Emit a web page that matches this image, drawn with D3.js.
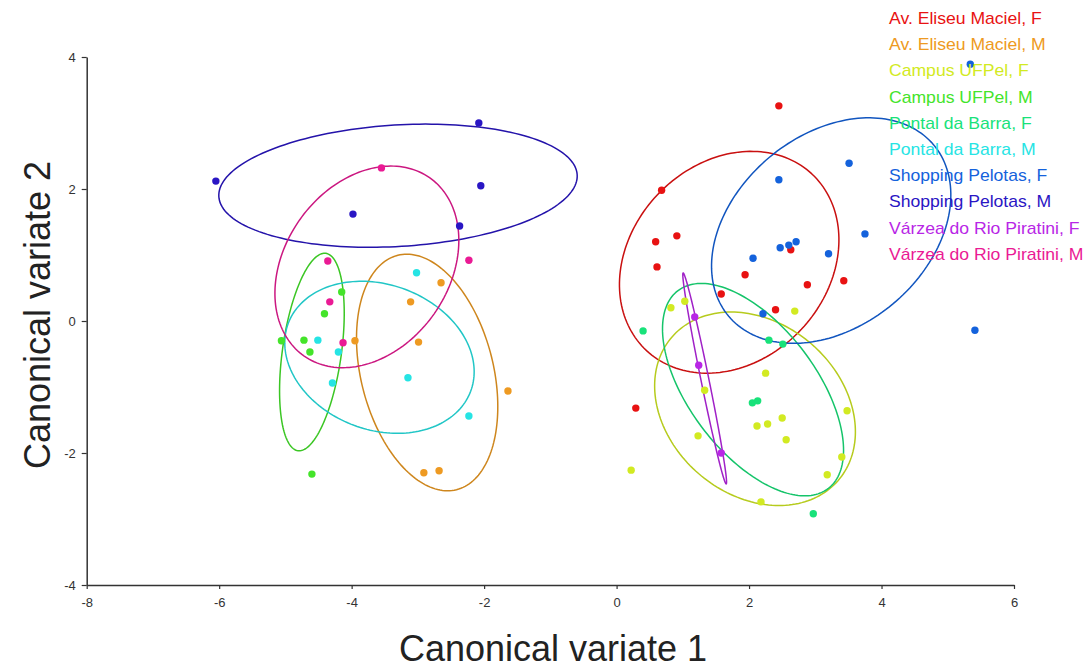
<!DOCTYPE html>
<html>
<head>
<meta charset="utf-8">
<script src="https://cdn.jsdelivr.net/npm/d3@7"></script>
<style>
  body { margin: 0; background: #fff; }
  svg { display: block; font-family: "Liberation Sans", Arial, sans-serif; }
</style>
</head>
<body>
<div id="chart"></div>
<script>
const groups = [
  "Av. Eliseu Maciel, F", "Av. Eliseu Maciel, M",
  "Campus UFPel, F", "Campus UFPel, M",
  "Pontal da Barra, F", "Pontal da Barra, M",
  "Shopping Pelotas, F", "Shopping Pelotas, M",
  "Várzea do Rio Piratini, F", "Várzea do Rio Piratini, M"
];

const groupColors = ["#e81212", "#ee9a22", "#d2ea22", "#44e42a", "#18e27a",
                     "#26e4e4", "#1462dc", "#2a16c4", "#b826e6", "#ea1a94"];

// canonical scores per group, [cv1, cv2]
const scores = [
  [[2.45, 3.26], [0.68, 1.98], [0.91, 1.29], [0.59, 1.20], [0.61, 0.82], [1.94, 0.70],
   [2.63, 1.08], [2.88, 0.55], [3.43, 0.61], [1.58, 0.41], [2.40, 0.17], [0.29, -1.32]],
  [[-2.65, 0.58], [-3.11, 0.29], [-3.95, -0.30], [-2.99, -0.32], [-1.64, -1.06],
   [-2.91, -2.30], [-2.68, -2.27]],
  [[0.82, 0.20], [1.03, 0.30], [2.69, 0.15], [2.25, -0.79], [1.33, -1.05], [3.48, -1.36],
   [2.50, -1.47], [2.28, -1.56], [2.12, -1.59], [1.23, -1.74], [2.56, -1.80], [3.40, -2.06],
   [3.18, -2.33], [0.22, -2.26], [2.18, -2.74]],
  [[-4.15, 0.44], [-4.41, 0.11], [-5.06, -0.30], [-4.72, -0.29], [-4.63, -0.47], [-4.60, -2.32]],
  [[0.40, -0.15], [2.30, -0.29], [2.51, -0.35], [2.05, -1.24], [2.13, -1.21], [2.97, -2.92]],
  [[-3.02, 0.73], [-4.51, -0.29], [-4.20, -0.47], [-4.29, -0.94], [-3.15, -0.86], [-2.23, -1.44]],
  [[2.45, 2.14], [3.51, 2.39], [3.75, 1.32], [2.06, 0.95], [2.47, 1.11], [2.60, 1.15],
   [2.71, 1.20], [3.20, 1.02], [2.21, 0.11], [5.34, 3.89], [5.41, -0.14]],
  [[-6.05, 2.12], [-2.08, 3.00], [-2.05, 2.05], [-3.98, 1.62], [-2.37, 1.44]],
  [[1.18, 0.06], [1.24, -0.67], [1.58, -2.00]],
  [[-3.55, 2.32], [-4.36, 0.91], [-2.23, 0.92], [-4.33, 0.29], [-4.13, -0.33]]
];

// ellipse parameters per group (data units, angle in degrees)
const ellCx = [1.70, -2.86, 2.09, -4.60, 2.06, -3.58, 3.24, -3.30, 1.33, -3.77];
const ellCy = [0.89, -0.78, -1.33, -0.47, -1.04, -0.55, 1.37, 2.05, -0.87, 0.82];
const ellA = [1.83, 1.83, 1.66, 1.51, 1.88, 1.47, 2.02, 2.71, 1.63, 1.65];
const ellB = [1.49, 1.00, 1.30, 0.445, 0.96, 1.10, 1.45, 0.92, 0.06, 1.24];
const ellAngle = [47, -76, -41, 82, -53, -20.5, 40, 3.5, 101.5, 55];

const xTicks = [-8, -6, -4, -2, 0, 2, 4, 6];
const yTicks = [-4, -2, 0, 2, 4];

const width = 1088, height = 669;
const svg = d3.select("#chart").append("svg").attr("width", width).attr("height", height);

const x = d3.scaleLinear().domain([-8, 6]).range([86.7, 1014]);
const y = d3.scaleLinear().domain([-4, 4]).range([585, 57]);

// axes
const xAxis = svg.append("g").attr("transform", `translate(0,${y(-4)})`)
  .call(d3.axisBottom(x).tickValues(xTicks).tickFormat(d => String(d))
    .tickSize(4).tickSizeOuter(0).tickPadding(9));
const yAxis = svg.append("g").attr("transform", `translate(${x(-8)},0)`)
  .call(d3.axisLeft(y).tickValues(yTicks).tickFormat(d => String(d))
    .tickSize(5).tickSizeOuter(0).tickPadding(6));

[xAxis, yAxis].forEach(ax => {
  ax.select(".domain").attr("stroke", "#333").attr("stroke-width", 1.5);
  ax.selectAll(".tick line").attr("stroke", "#333").attr("stroke-width", 1.2);
  ax.selectAll(".tick text").attr("fill", "#333").style("font-size", "13px")
    .style("font-family", "'Liberation Sans', Arial, sans-serif");
});

svg.append("text")
  .attr("x", 553).attr("y", 661)
  .attr("text-anchor", "middle")
  .style("font-size", "36px").attr("fill", "#222")
  .text("Canonical variate 1");

svg.append("text")
  .attr("transform", `translate(50,315) rotate(-90)`)
  .attr("text-anchor", "middle")
  .style("font-size", "36px").attr("fill", "#222")
  .text("Canonical variate 2");

// ellipses
const line = d3.line().x(d => x(d[0])).y(d => y(d[1])).curve(d3.curveLinearClosed);
const ellPts = (i) => {
  const t = ellAngle[i] * Math.PI / 180;
  return d3.range(0, 2 * Math.PI, Math.PI / 90).map(p => [
    ellCx[i] + ellA[i] * Math.cos(p) * Math.cos(t) - ellB[i] * Math.sin(p) * Math.sin(t),
    ellCy[i] + ellA[i] * Math.cos(p) * Math.sin(t) + ellB[i] * Math.sin(p) * Math.cos(t)
  ]);
};

svg.append("g").selectAll("path")
  .data(groups.map((g, i) => i))
  .enter().append("path")
  .attr("d", i => line(ellPts(i)))
  .attr("fill", "none")
  .attr("stroke", i => d3.color(groupColors[i]).darker(0.4))
  .attr("stroke-width", 1.5);

// points
const pts = svg.append("g");
scores.forEach((s, i) => {
  pts.selectAll(null)
    .data(s)
    .enter().append("circle")
    .attr("cx", d => x(d[0]))
    .attr("cy", d => y(d[1]))
    .attr("r", 3.7)
    .attr("fill", groupColors[i]);
});

// legend
const legend = svg.append("g").attr("transform", "translate(889,24) scale(1.1,1)");
legend.selectAll("text")
  .data(groups)
  .enter().append("text")
  .attr("x", 0)
  .attr("y", (d, i) => i * 26.2)
  .style("font-size", "16px")
  .attr("fill", (d, i) => groupColors[i])
  .text(d => d);
</script>
</body>
</html>
